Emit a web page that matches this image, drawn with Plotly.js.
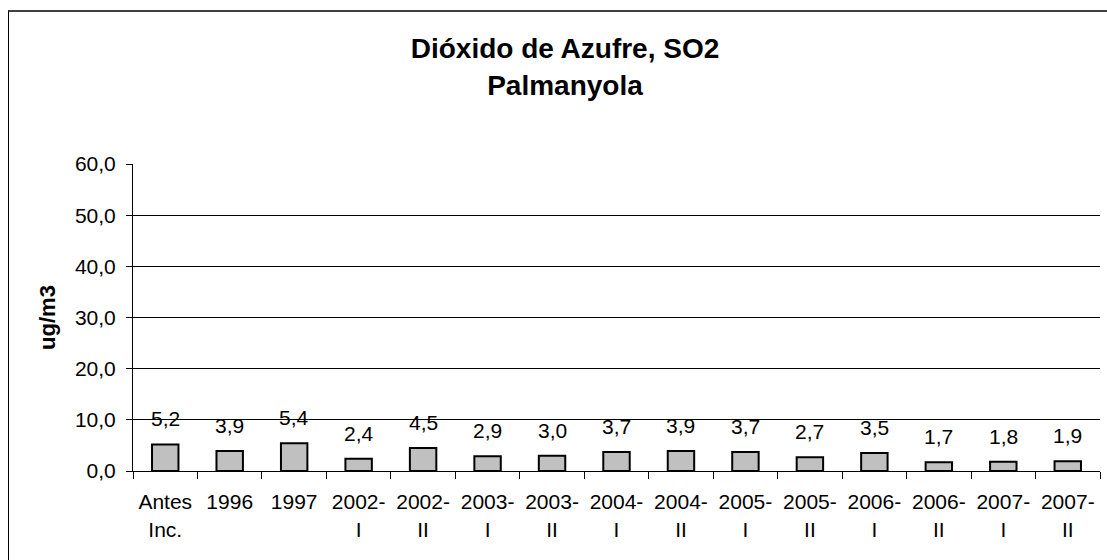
<!DOCTYPE html>
<html>
<head>
<meta charset="utf-8">
<script src="https://cdn.plot.ly/plotly-3.0.1.min.js"></script>
<style>
html,body{margin:0;padding:0;background:#fff;}
#wrap{position:relative;width:1107px;height:560px;overflow:hidden;}
#frame{position:absolute;left:8px;top:10px;width:1200px;height:700px;border-left:1px solid #000;border-top:2px solid #404040;pointer-events:none;z-index:5;}
#chart{position:absolute;left:0;top:0;width:1107px;height:560px;}
</style>
</head>
<body>
<div id="wrap"><div id="chart"></div><div id="frame"></div></div>
<script>
const categories = ["Antes<br>Inc.", "1996", "1997", "2002-<br>I", "2002-<br>II", "2003-<br>I", "2003-<br>II", "2004-<br>I", "2004-<br>II", "2005-<br>I", "2005-<br>II", "2006-<br>I", "2006-<br>II", "2007-<br>I", "2007-<br>II"];
const values = [5.2, 3.9, 5.4, 2.4, 4.5, 2.9, 3.0, 3.7, 3.9, 3.7, 2.7, 3.5, 1.7, 1.8, 1.9];
const titleText = "Dióxido de Azufre, SO2<br>Palmanyola";
const yTitle = "ug/m3";

const FONT = "Liberation Sans, Arial, sans-serif";

const trace = {
  type: "bar",
  x: categories,
  y: values,
  marker: {color: "#c0c0c0", line: {color: "#000", width: 2}},
  hoverinfo: "skip"
};

const annotations = values.map((v, i) => ({
  x: i, y: v, xref: "x", yref: "y",
  text: v.toFixed(1).replace(".", ","),
  showarrow: false, yanchor: "bottom", yshift: 12,
  font: {family: FONT, size: 21, color: "#000"}
}));

const layout = {
  width: 1107, height: 560,
  margin: {l: 133, r: 7, t: 164, b: 89},
  paper_bgcolor: "#fff", plot_bgcolor: "#fff",
  separators: ",.",
  showlegend: false,
  bargap: 0.59,
  font: {family: FONT, color: "#000"},
  title: {
    text: titleText,
    font: {family: FONT, size: 28, color: "#000", weight: "bold"},
    x: 0.5104, xref: "container", xanchor: "center",
    y: 0.896, yref: "container", yanchor: "middle"
  },
  xaxis: {
    type: "category",
    categoryorder: "array", categoryarray: categories,
    range: [-0.5, categories.length - 0.5],
    tickson: "boundaries",
    ticks: "outside", ticklen: 7, tickcolor: "#000",
    ticklabelstandoff: 12,
    showline: true, linecolor: "#000", linewidth: 1,
    showgrid: false, zeroline: false,
    tickfont: {family: FONT, size: 21, color: "#000"},
    tickangle: 0
  },
  yaxis: {
    range: [0, 60], dtick: 10, tick0: 0,
    tickformat: ".1f",
    ticks: "outside", ticklen: 6, tickcolor: "#000",
    ticklabelstandoff: 6,
    showline: true, linecolor: "#000", linewidth: 1,
    showgrid: true, gridcolor: "#000", gridwidth: 1,
    zeroline: false,
    tickfont: {family: FONT, size: 21, color: "#000"},
    title: {text: yTitle, font: {family: FONT, size: 22, color: "#000", weight: "bold"}, standoff: 13}
  },
  annotations: annotations
};

Plotly.newPlot("chart", [trace], layout, {staticPlot: true, displayModeBar: false});
</script>
</body>
</html>
